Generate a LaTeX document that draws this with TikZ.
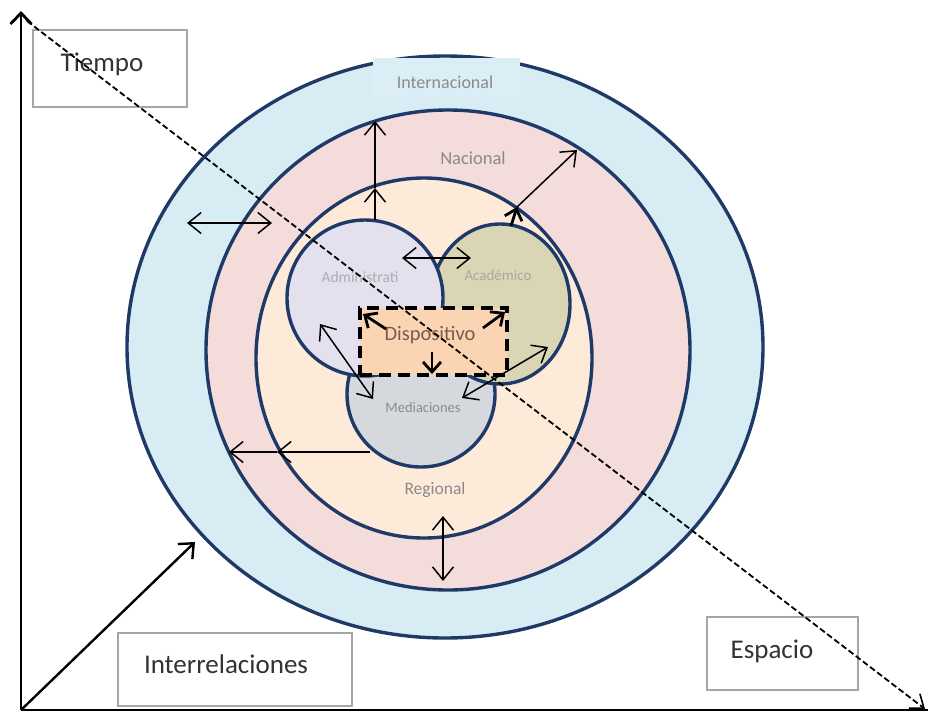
\documentclass[tikz,border=0pt]{standalone}
\usepackage{fontspec}
\setmainfont{Carlito}
\usetikzlibrary{arrows.meta,shapes.geometric}
\definecolor{rim}{HTML}{1F3A68}
\definecolor{cInt}{HTML}{D8ECF4}
\definecolor{cIntBox}{HTML}{DCEEF5}
\definecolor{cNac}{HTML}{F4DCDB}
\definecolor{cReg}{HTML}{FDEAD8}
\definecolor{cAdm}{HTML}{E4E0EE}
\definecolor{cAca}{HTML}{D9D5B5}
\definecolor{cMed}{HTML}{D5D9DE}
\definecolor{cDis}{HTML}{FBD5B3}
\definecolor{lbl}{HTML}{8A8A8A}
\definecolor{dlbl}{HTML}{7A5A4A}
\definecolor{boxline}{HTML}{A6A6A6}
\definecolor{axtext}{HTML}{333333}
\tikzset{
  ring/.style={ellipse, draw=rim, line width=3.4pt, inner sep=0pt, outer sep=0pt},
  inlabel/.style={text=lbl, font=\fontsize{15}{17}\selectfont, inner sep=0pt},
  axbox/.style={draw=boxline, line width=1.1pt, fill=white, inner sep=0pt},
  axlabel/.style={text=axtext, font=\fontsize{27}{30}\selectfont, inner sep=0pt},
  barb/.tip={Straight Barb[length=13pt,width=21pt,line width=1.5pt]},
  tip/.style={-barb},
  dtip/.style={barb-barb},
  thin arrow/.style={line width=1.5pt, black},
  thick arrow/.style={line width=2.8pt, black, -{Straight Barb[length=10pt,width=18pt,line width=2.8pt]}},
  axis/.style={line width=2.8pt, black}
}
\begin{document}
\begin{tikzpicture}[x=1pt,y=-1pt]
\useasboundingbox (0,0) rectangle (928,718);
% circles
\node[ring, fill=cInt, minimum width=636pt, minimum height=582pt] (int) at (445,347) {};
\node[fill=cIntBox, inner sep=0pt, minimum width=147pt, minimum height=44pt, anchor=north west] (intbox) at (373,58) {};
\node[ring, fill=cNac, minimum width=484pt, minimum height=480pt] (nac) at (448,350) {};
\node[ring, fill=cReg, minimum width=336pt, minimum height=360pt] (reg) at (424,358) {};
\node[ring, fill=cMed, minimum width=148pt, minimum height=146pt] (med) at (421,394) {};
\node[ring, fill=cAca, minimum width=140pt, minimum height=160pt] (aca) at (500,304) {};
\node[ring, fill=cAdm, minimum width=156pt, minimum height=156pt] (adm) at (365,298) {};
\node[draw=black, fill=cDis, line width=3.8pt, dash pattern=on 12pt off 7pt, minimum width=147pt, minimum height=67pt, inner sep=0pt] (dis) at (433.5,341.5) {};
% labels
\node[inlabel, font=\fontsize{18}{20}\selectfont] (tint) at (445,82) {Internacional};
\node[inlabel, font=\fontsize{18.5}{20}\selectfont] (tnac) at (473,158) {Nacional};
\node[inlabel, text=cAdm!40!lbl, font=\fontsize{15.5}{17}\selectfont] (tadm) at (360,277) {Administrati};
\node[inlabel, text=cAca!40!lbl] (taca) at (498,275) {Académico};
\node[inlabel, font=\fontsize{14.5}{17}\selectfont] (tmed) at (423,408) {Mediaciones};
\node[inlabel, font=\fontsize{17.5}{19}\selectfont] (treg) at (435,490) {Regional};
\node[inlabel, text=dlbl, font=\fontsize{20.5}{22}\selectfont] (tdis) at (430,335) {Dispositivo};
% arrow coordinates
\coordinate (a1s) at (375,220); \coordinate (a1m) at (375,188); \coordinate (a1e) at (375,121);
\coordinate (a2s) at (511,226); \coordinate (a2m) at (517,207); \coordinate (a2e) at (577,150);
\coordinate (a3s) at (187,223); \coordinate (a3e) at (272,223);
\coordinate (a4s) at (402,258); \coordinate (a4e) at (471,258);
\coordinate (a5s) at (386,329); \coordinate (a5e) at (363,314);
\coordinate (a6s) at (483,328); \coordinate (a6e) at (505,312);
\coordinate (a7s) at (432,352); \coordinate (a7e) at (432,374);
\coordinate (a8s) at (320,324); \coordinate (a8e) at (373,399);
\coordinate (a9s) at (548,347); \coordinate (a9e) at (462,398);
\coordinate (a10s) at (370,452); \coordinate (a10m) at (277,452); \coordinate (a10e) at (229,452);
\coordinate (a11s) at (443,516); \coordinate (a11e) at (443,581);
% arrows
\draw[thin arrow, tip] (a1s) -- (a1m);
\draw[thin arrow, tip] (a1m) -- (a1e);
\draw[thick arrow] (a2s) -- (a2m);
\draw[thin arrow, tip] (a2m) -- (a2e);
\draw[thin arrow, dtip] (a3s) -- (a3e);
\draw[thin arrow, dtip] (a4s) -- (a4e);
\draw[thick arrow] (a5s) -- (a5e);
\draw[thick arrow] (a6s) -- (a6e);
\draw[thick arrow] (a7s) -- (a7e);
\draw[thin arrow, dtip] (a8s) -- (a8e);
\draw[thin arrow, dtip] (a9s) -- (a9e);
\draw[thin arrow, tip] (a10s) -- (a10m);
\draw[thin arrow, tip] (a10m) -- (a10e);
\draw[thin arrow, dtip] (a11s) -- (a11e);
% axis boxes
\node[axbox, minimum width=154pt, minimum height=77pt] (bt) at (110,68.5) {};
\node[axlabel, anchor=base] (tt) at (102,71) {Tiempo};
\node[axbox, minimum width=234pt, minimum height=73pt] (bi) at (235,669.5) {};
\node[axlabel, anchor=base] (ti) at (226,673) {Interrelaciones};
\node[axbox, minimum width=151pt, minimum height=73pt] (be) at (782.5,653.5) {};
\node[axlabel, anchor=base] (te) at (772,658) {Espacio};
% axes
\coordinate (o) at (21,710);
\coordinate (ytop) at (21,11);
\coordinate (xend) at (928,710);
\coordinate (zend) at (195,542);
\coordinate (ds) at (27,21);
\coordinate (de) at (925,709);
\draw[line width=1.8pt, dash pattern=on 6pt off 3pt, -{Straight Barb[length=12pt,width=18pt,line width=1.6pt]}] (ds) -- (de);
\draw[axis, -{Straight Barb[length=11pt,width=21pt,line width=2.8pt]}] (o) -- (ytop);
\draw[axis] (o) -- (xend);
\draw[line width=2.4pt, -{Straight Barb[length=12pt,width=21pt,line width=2.4pt]}] (o) -- (zend);
\end{tikzpicture}
\end{document}
